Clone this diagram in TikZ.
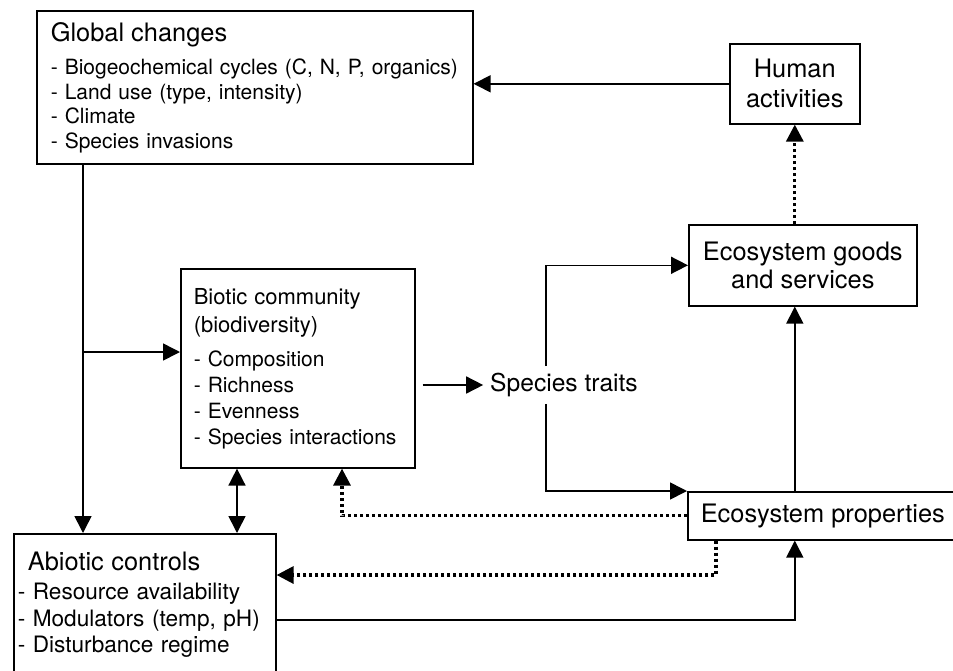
\documentclass[tikz,border=0pt]{standalone}
\usepackage{fontspec}
\setmainfont{TeX Gyre Heros}
\usetikzlibrary{arrows.meta}

\newcommand\boxtitle{\fontsize{12.7}{15}\selectfont}

\tikzset{
  box/.style={draw, line width=0.8pt, anchor=north west},
  link/.style={->, line width=0.8pt},
  dotlink/.style={->, line width=1.6pt, dash pattern=on 1.6pt off 1.4pt},
}

\begin{document}
\begin{tikzpicture}[x=0.5pt, y=-0.5pt, >={Triangle[length=8.5pt,width=8.5pt]}]
\useasboundingbox (0,0) rectangle (953,670);

% boxes
\node[box, minimum width=218pt, minimum height=76.5pt, inner xsep=7pt,
  text width=204pt, align=left, font=\fontsize{10.5}{12.25}\selectfont] (global) at (36,10)
  {{\boxtitle Global changes}\\[4.5pt]
   - Biogeochemical cycles (C, N, P, organics)\\
   - Land use (type, intensity)\\
   - Climate\\
   - Species invasions};

\node[box, minimum width=65pt, minimum height=40pt, align=center,
  font=\fontsize{12.7}{15}\selectfont] (human) at (729,43) {Human\\activities};

\node[box, minimum width=114pt, minimum height=40.5pt, align=center,
  font=\fontsize{12.7}{14}\selectfont] (goods) at (688,224) {Ecosystem goods\\and services};

\node[box, minimum width=117pt, minimum height=99.5pt, inner xsep=6.5pt,
  text width=104pt, align=left, font=\fontsize{10.5}{13}\selectfont] (biotic) at (180,268)
  {{\fontsize{11}{14}\selectfont Biotic community}\\[1pt]
   {\fontsize{11}{14}\selectfont (biodiversity)}\\[4pt]
   - Composition\\
   - Richness\\
   - Evenness\\
   - Species interactions};

\node[box, minimum width=131pt, minimum height=71pt, inner xsep=2pt,
  text width=127pt, align=left, font=\fontsize{11.3}{13.25}\selectfont] (abiotic) at (13,533)
  {\hspace*{5pt}{\boxtitle Abiotic controls}\\[1.5pt]
   - Resource availability\\
   - Modulators (temp, pH)\\
   - Disturbance regime};

\node[box, minimum width=135pt, minimum height=24pt,
  font=\boxtitle] (props) at (687,491) {Ecosystem properties};

\node[font=\fontsize{12.3}{14}\selectfont] (traits) at (564,385) {Species traits};

% turning points
\coordinate (gx) at (83,0);
\coordinate (branch) at (83,352);
\coordinate (bix) at (237,0);
\coordinate (fork) at (546,0);
\coordinate (dotx) at (342,0);
\coordinate (dx) at (716,0);
\coordinate (lowy) at (0,620);
\coordinate (miny) at (0,575);

% connectors
\draw[link] (human.west) -- (human.west -| global.east);
\draw[dotlink] (goods.north -| human.south) -- (human.south);
\draw[link] (gx |- global.south) -- (gx |- abiotic.north);
\draw[link] (branch) -- (branch -| biotic.west);
\draw[link, <->] (bix |- biotic.south) -- (bix |- abiotic.north);
\draw[link, shorten <=3.5pt] (biotic.east |- traits.west) -- (traits.west);
\draw[link] (fork |- traits.north) |- (goods.west);
\draw[link] (fork |- traits.south) |- (props.north west);
\draw[link] (human.south |- props.north) -- (human.south |- goods.south);
\draw[link] (abiotic.east |- lowy) -| (human.south |- props.south);
\draw[dotlink] (props.west) -| (dotx |- biotic.south);
\draw[dotlink] (dx |- props.south) |- (abiotic.east |- miny);

\end{tikzpicture}
\end{document}
